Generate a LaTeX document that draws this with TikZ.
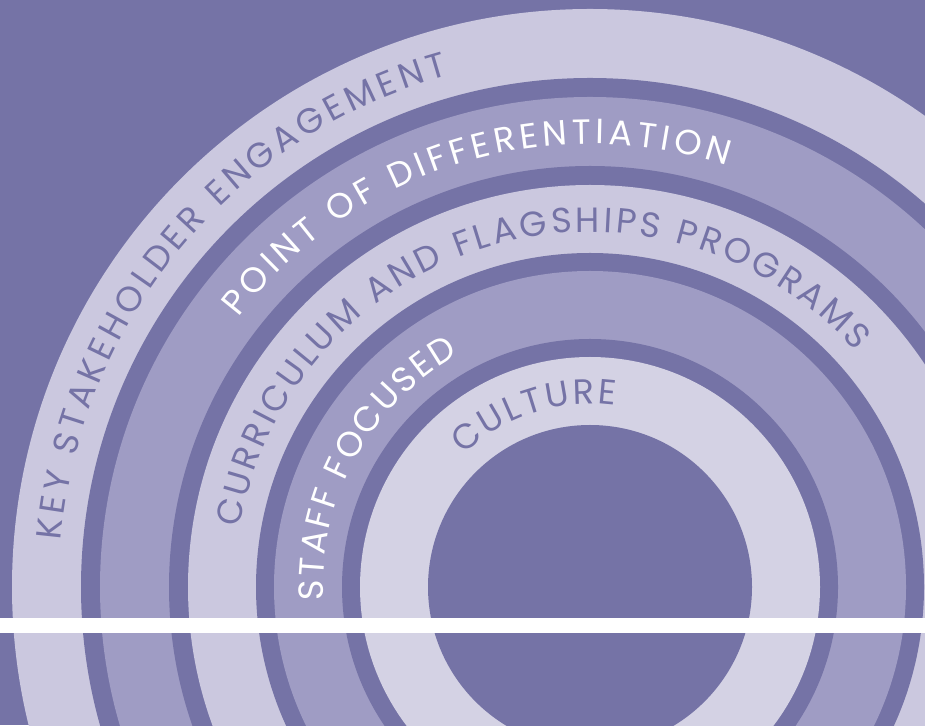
\documentclass[tikz,border=0pt]{standalone}
\usepackage{fontspec}
\setmainfont{Poppins}
\usetikzlibrary{decorations.text}
\definecolor{ringdark}{RGB}{117,115,166}
\definecolor{ringmid}{RGB}{159,156,196}
\definecolor{ringlight}{RGB}{203,200,223}
\definecolor{ringpale}{RGB}{212,210,228}
\newcommand\ringfont{\fontsize{35}{42}\selectfont}

\begin{document}
\begin{tikzpicture}[
    x=1pt, y=1pt,
    disc/.style={draw=none, fill=#1},
    ringlabel/.style={decorate, decoration={text along path, text align=fit to path, text color=#1}},
]

% Frame
\useasboundingbox (0,0) rectangle (925,725);
\clip (0,0) rectangle (925,725);
\fill[ringdark] (0,0) rectangle (925,725);

\coordinate (center) at (590,138);

% Rings (outside in)
\path[disc=ringlight] (center) circle[radius=578pt];
\path[disc=ringdark]  (center) circle[radius=509pt];
\path[disc=ringmid]   (center) circle[radius=490pt];
\path[disc=ringdark]  (center) circle[radius=421pt];
\path[disc=ringlight] (center) circle[radius=402pt];
\path[disc=ringdark]  (center) circle[radius=334pt];
\path[disc=ringmid]   (center) circle[radius=316pt];
\path[disc=ringdark]  (center) circle[radius=248pt];
\path[disc=ringpale]  (center) circle[radius=230pt];
\path[disc=ringdark]  (center) circle[radius=162pt];

% White bar
\fill[white] (0,92) rectangle (925,107);

% Ring labels
\path[ringlabel=ringdark, decoration={text={|\ringfont|KEY STAKEHOLDER ENGAGEMENT}}]
    (center) ++(175:531pt) arc[start angle=175, end angle=105.5, radius=531pt];
\path[ringlabel=white, decoration={text={|\ringfont|POINT OF DIFFERENTIATION}}]
    (center) ++(142.5:443pt) arc[start angle=142.5, end angle=72, radius=443pt];
\path[ringlabel=ringdark, decoration={text={|\ringfont|CURRICULUM AND FLAGSHIPS PROGRAMS}}]
    (center) ++(170.4:355pt) arc[start angle=170.4, end angle=41.5, radius=355pt];
\path[ringlabel=white, decoration={text={|\ringfont|STAFF FOCUSED}}]
    (center) ++(182.8:267pt) arc[start angle=182.8, end angle=119.5, radius=267pt];
\path[ringlabel=ringdark, decoration={text={|\ringfont|CULTURE}}]
    (center) ++(133.6:183pt) arc[start angle=133.6, end angle=82, radius=183pt];

\end{tikzpicture}
\end{document}
